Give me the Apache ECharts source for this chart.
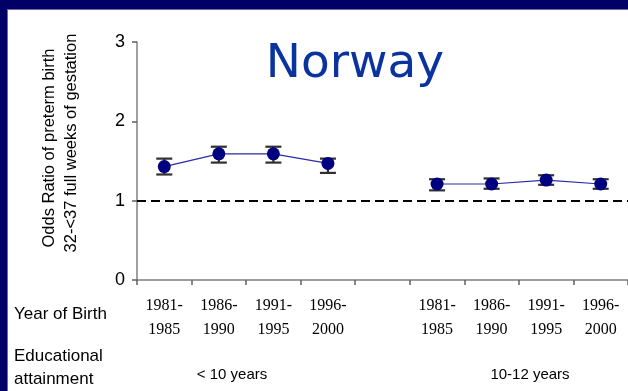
<!DOCTYPE html>
<html>
<head>
<meta charset="utf-8">
<script src="https://cdn.jsdelivr.net/npm/echarts@6/dist/echarts.min.js"></script>
<style>
  html, body { margin: 0; padding: 0; background: #ffffff; }
  #chart { width: 628px; height: 391px; }
</style>
</head>
<body>
<div id="chart"></div>
<script>
// Birth-year periods per education group; the empty slot separates the two groups
const categories = ['1981-\n1985', '1986-\n1990', '1991-\n1995', '1996-\n2000', '',
                    '1981-\n1985', '1986-\n1990', '1991-\n1995', '1996-\n2000'];
// Odds ratio point estimates ('-' = gap between groups)
const oddsRatio = [1.43, 1.59, 1.59, 1.47, '-', 1.21, 1.21, 1.26, 1.21];
// 95% confidence limits
const ciLow  = [1.33, 1.48, 1.48, 1.35, null, 1.13, 1.15, 1.20, 1.15];
const ciHigh = [1.53, 1.68, 1.68, 1.53, null, 1.27, 1.28, 1.32, 1.27];
const yTicks = [0, 1, 2, 3];
const groupLabels = ['< 10 years', '10-12 years'];

const errorData = [];
ciLow.forEach((lo, i) => { if (lo !== null) errorData.push([i, lo, ciHigh[i]]); });

const chart = echarts.init(document.getElementById('chart'), null, { renderer: 'canvas' });

const option = {
  backgroundColor: '#ffffff',
  animation: false,
  grid: { left: 137, top: 42, bottom: 111, width: 494 },
  xAxis: {
    type: 'category',
    data: categories,
    boundaryGap: true,
    axisLine: { lineStyle: { color: '#808080', width: 1.5 } },
    axisTick: { show: true, length: 5, lineStyle: { color: '#606060', width: 1.5 } },
    axisLabel: {
      interval: 0,
      margin: 14,
      color: '#000000',
      fontFamily: 'Liberation Serif',
      fontSize: 16,
      lineHeight: 24
    }
  },
  yAxis: {
    type: 'value',
    min: yTicks[0],
    max: yTicks[yTicks.length - 1],
    interval: 1,
    splitLine: { show: false },
    axisLine: { show: true, lineStyle: { color: '#808080', width: 1.5 } },
    axisTick: { show: true, length: 5, lineStyle: { color: '#606060', width: 1.5 } },
    axisLabel: {
      margin: 12,
      color: '#000000',
      fontFamily: 'Liberation Sans',
      fontSize: 18
    }
  },
  series: [
    {
      type: 'custom',
      z: 2,
      data: errorData,
      renderItem: function (params, api) {
        const x = api.value(0);
        const lo = api.coord([x, api.value(1)]);
        const hi = api.coord([x, api.value(2)]);
        const half = 8;
        const style = { stroke: '#303030', lineWidth: 2.2 };
        return {
          type: 'group',
          children: [
            { type: 'line', shape: { x1: lo[0], y1: lo[1], x2: hi[0], y2: hi[1] }, style: style },
            { type: 'line', shape: { x1: lo[0] - half, y1: lo[1], x2: lo[0] + half, y2: lo[1] }, style: style },
            { type: 'line', shape: { x1: hi[0] - half, y1: hi[1], x2: hi[0] + half, y2: hi[1] }, style: style }
          ]
        };
      }
    },
    {
      type: 'line',
      z: 3,
      data: oddsRatio,
      connectNulls: false,
      symbol: 'circle',
      symbolSize: 13,
      itemStyle: { color: '#000080' },
      lineStyle: { color: '#2a2aa8', width: 1.2 },
      markLine: {
        silent: true,
        symbol: 'none',
        label: { show: false },
        lineStyle: { color: '#000000', type: [9, 5], width: 2 },
        data: [{ yAxis: 1 }]
      }
    }
  ],
  graphic: [
    // Frame
    { type: 'rect', left: 0, top: 0, shape: { width: 628, height: 9 }, style: { fill: '#000066' } },
    { type: 'rect', left: 0, top: 0, shape: { width: 7, height: 391 }, style: { fill: '#000066' } },
    { type: 'rect', left: 7, top: 9, shape: { width: 621, height: 1 }, style: { fill: '#6a6aa8' } },
    { type: 'rect', left: 7, top: 9, shape: { width: 1, height: 382 }, style: { fill: '#6a6aa8' } },
    // Title
    { type: 'text', x: 355, y: 65, style: { text: 'Norway', font: '47px "DejaVu Sans"', fill: '#0a33a0', textAlign: 'center', textVerticalAlign: 'middle' } },
    // Y-axis title
    { type: 'text', x: 49, y: 148, rotation: Math.PI / 2, style: { text: 'Odds Ratio of preterm birth', font: '16.5px "Liberation Sans"', fill: '#000000', textAlign: 'center', textVerticalAlign: 'middle' } },
    { type: 'text', x: 71, y: 143, rotation: Math.PI / 2, style: { text: '32-<37 full weeks of gestation', font: '16.5px "Liberation Sans"', fill: '#000000', textAlign: 'center', textVerticalAlign: 'middle' } },
    // Row headings
    { type: 'text', x: 14, y: 314, style: { text: 'Year of Birth', font: '17px "Liberation Sans"', fill: '#000000', textVerticalAlign: 'middle' } },
    { type: 'text', x: 14, y: 356, style: { text: 'Educational', font: '17px "Liberation Sans"', fill: '#000000', textVerticalAlign: 'middle' } },
    { type: 'text', x: 14, y: 379, style: { text: 'attainment', font: '17px "Liberation Sans"', fill: '#000000', textVerticalAlign: 'middle' } },
    // Group labels
    { type: 'text', x: 232, y: 375, style: { text: groupLabels[0], font: '15px "Liberation Sans"', fill: '#000000', textAlign: 'center', textVerticalAlign: 'middle' } },
    { type: 'text', x: 530, y: 375, style: { text: groupLabels[1], font: '15px "Liberation Sans"', fill: '#000000', textAlign: 'center', textVerticalAlign: 'middle' } }
  ]
};

chart.setOption(option);
</script>
</body>
</html>
